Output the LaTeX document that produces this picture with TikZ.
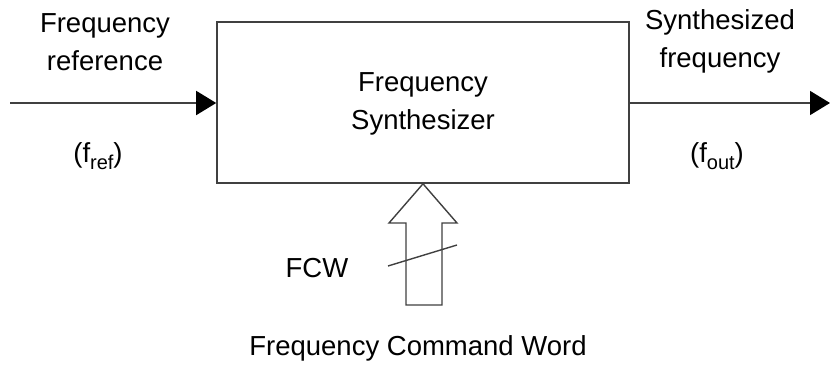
\documentclass[tikz,border=0pt]{standalone}
\usepackage{fontspec}
\setmainfont{Liberation Sans}
\usetikzlibrary{arrows.meta}
\tikzset{
  wire/.style={draw=black!75, line width=1.6pt},
  sig/.style={wire, -{Triangle[length=20pt,width=24pt,fill=black,color=black]}},
  lbl/.style={font=\fontsize{27.5}{38}\selectfont, align=center, inner sep=0pt},
}
\newcommand{\subtxt}[1]{\raisebox{-0.28em}{\fontsize{20}{20}\selectfont #1}}
\begin{document}
\begin{tikzpicture}[x=1pt,y=-1pt]
  \useasboundingbox (0,0) rectangle (830,367);
  % synthesizer block
  \node[wire, minimum width=412pt, minimum height=161pt, inner sep=0pt] (syn) at (423,102.5) {};
  \node[lbl, anchor=base] (syntxt) at (423,129) {Frequency\\Synthesizer};
  % reference input
  \coordinate (inp) at (10,103);
  \draw[sig] (inp) -- (inp -| syn.west);
  \node[lbl, anchor=base] (reflbl) at (105,70) {Frequency\\reference};
  \node[lbl, anchor=base] (fref) at (98,162) {(f\subtxt{ref})};
  % synthesized output
  \coordinate (outp) at (830,103);
  \draw[sig] (outp -| syn.east) -- (outp);
  \node[lbl, anchor=base] (outlbl) at (720,67) {Synthesized\\frequency};
  \node[lbl, anchor=base] (fout) at (717,162) {(f\subtxt{out})};
  % frequency command word bus (hollow arrow)
  \coordinate (tip) at (syn.south);
  \draw[wire, line width=1.4pt, fill=white, line join=miter]
    (tip) -- (457,223) -- (442,223) -- (442,305) -- (406,305) -- (406,223) -- (389,223) -- cycle;
  \coordinate (slashA) at (388,266);
  \coordinate (slashB) at (457,245);
  \draw[wire, line width=1.4pt] (slashA) -- (slashB);
  \node[lbl, anchor=base] (fcw) at (317,277) {FCW};
  \node[lbl, anchor=base] (fcwlbl) at (418,355) {Frequency Command Word};
\end{tikzpicture}
\end{document}
